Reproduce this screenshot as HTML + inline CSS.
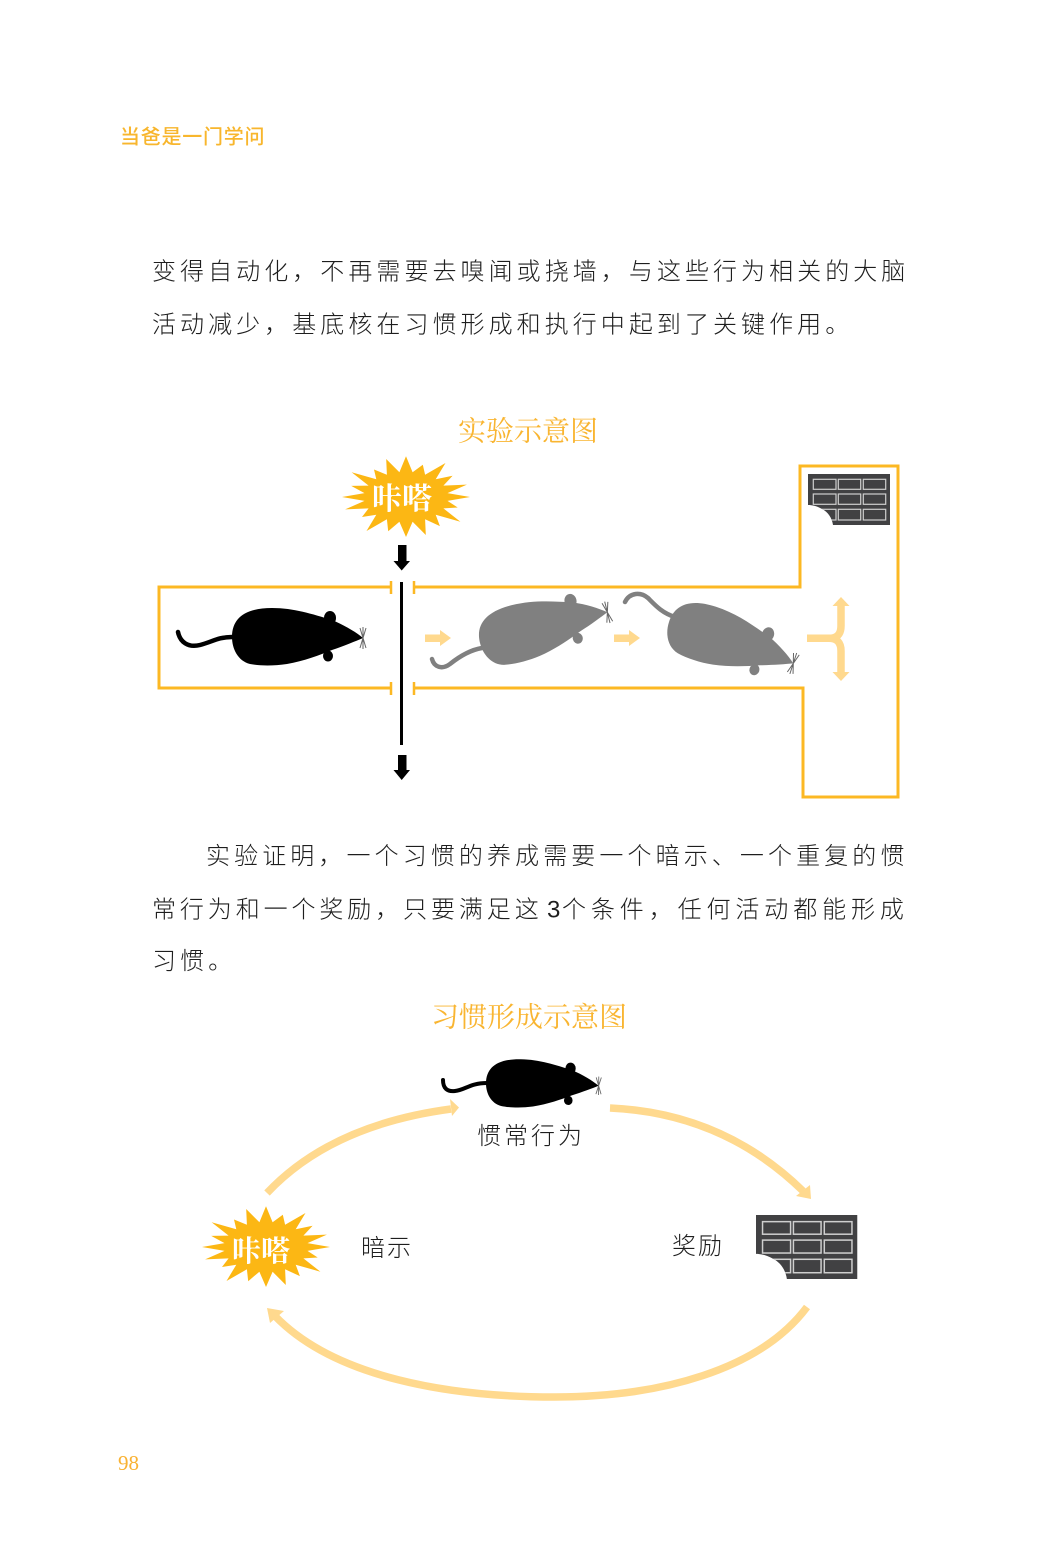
<!DOCTYPE html>
<html><head><meta charset="utf-8">
<style>
html,body{margin:0;padding:0;background:#fff;}
body{width:1058px;height:1550px;overflow:hidden;}
svg{display:block;}
.b{font-family:"Liberation Sans","Noto Sans CJK SC",sans-serif;font-size:24px;fill:#1e1e1e;font-weight:300;}
.t{font-family:"Liberation Serif","Noto Serif CJK SC",serif;font-size:28px;fill:#f9b531;}
.k{font-family:"Liberation Serif","Noto Serif CJK SC",serif;font-weight:700;fill:#fff;}
</style></head>
<body>
<svg width="1058" height="1550" viewBox="0 0 1058 1550" xmlns="http://www.w3.org/2000/svg">
<defs>
  <g id="mouse">
    <path d="M0,0 C0,-18 12,-29 40,-29 C62,-29 80,-23 100,-17 C112,-12 124,-5 131,1 C124,4 112,9 100,13 C88,18 72,24 55,27 C42,29 28,29 18,27 C6,24 0,12 0,0 Z"/>
    <ellipse cx="98" cy="-19" rx="6" ry="7"/>
    <ellipse cx="96" cy="19" rx="5" ry="5.5"/>
  </g>
  <g id="whisk">
    <path d="M128,-9 L134,11 M134,-9 L128,11 M131,-10 L131,12" stroke="#666" stroke-width="1" fill="none"/>
  </g>
  <clipPath id="chocclip">
    <path d="M0,0 H82 V51 H25 C24,44 20,38 14,35 C9,32 4,31 0,31 Z"/>
  </clipPath>
  <g id="choc">
    <path d="M0,0 H82 V51 H25 C24,44 20,38 14,35 C9,32 4,31 0,31 Z" fill="#414143"/>
    <g clip-path="url(#chocclip)" fill="none" stroke="#cfcfcf" stroke-width="1.2">
      <rect x="5.3" y="5.3" width="22.7" height="10"/>
      <rect x="30.3" y="5.3" width="22.4" height="10"/>
      <rect x="55.3" y="5.3" width="22.4" height="10"/>
      <rect x="5.3" y="20" width="22.7" height="10.3"/>
      <rect x="30.3" y="20" width="22.4" height="10.3"/>
      <rect x="55.3" y="20" width="22.4" height="10.3"/>
      <rect x="5.3" y="35.3" width="22.7" height="10.7"/>
      <rect x="30.3" y="35.3" width="22.4" height="10.7"/>
      <rect x="55.3" y="35.3" width="22.4" height="10.7"/>
    </g>
  </g>
  <polygon id="burst" fill="#fcb714" points="64,0 41.5,3.9 51.7,10.5 37.4,11.4 54.4,24.7 29.7,17.7 33.9,29.1 19.1,22.3 19.8,38 6.6,24.7 0,40 -6.6,24.7 -17.8,34.2 -19.1,22.3 -39.5,34 -29.7,17.7 -44,20 -37.4,11.4 -60.9,12.4 -41.5,3.9 -64,0 -41.5,-3.9 -54.8,-11.1 -37.4,-11.4 -54.4,-24.7 -29.7,-17.7 -32,-27.5 -19.1,-22.3 -19.8,-38 -6.6,-24.7 0,-40.8 6.6,-24.7 16.8,-32.3 19.1,-22.3 39.5,-34 29.7,-17.7 46.6,-21.2 37.4,-11.4 60.9,-12.4 41.5,-3.9"/>
</defs>

<!-- header -->
<text x="120" y="143.5" style="font-family:'Liberation Sans','Noto Sans CJK SC',sans-serif;font-size:20px;font-weight:500;fill:#f8b62d;letter-spacing:0.75px">当爸是一门学问</text>

<!-- paragraph 1 -->
<text class="b" x="152" y="279.6" style="letter-spacing:4.05px">变得自动化，不再需要去嗅闻或挠墙，与这些行为相关的大脑</text>
<text class="b" x="152" y="332.6" style="letter-spacing:4.05px">活动减少，基底核在习惯形成和执行中起到了关键作用。</text>

<!-- title 1 -->
<text class="t" x="458" y="440.6">实验示意图</text>

<!-- diagram 1 -->
<g fill="none" stroke="#fcb823" stroke-width="3">
  <path d="M391,587 H159 V688 H391"/>
  <path d="M414,587 H800 V466 H898 V797 H803 V688 H414"/>
  <path d="M391,581 V594 M391,682 V695 M414,581 V594 M414,682 V695" stroke-width="2.5"/>
</g>
<use href="#burst" transform="translate(406,497)"/>
<text class="k" x="372" y="509" style="font-size:30px">咔嗒</text>
<!-- black arrows and gate -->
<rect x="398" y="545" width="8.5" height="16" fill="#000"/>
<polygon points="393.5,561 410,561 401.7,570.5" fill="#000"/>
<rect x="400" y="582" width="3" height="163" fill="#000"/>
<rect x="398" y="755" width="8.5" height="16" fill="#000"/>
<polygon points="393.5,770 410,770 401.7,780" fill="#000"/>

<!-- chocolate 1 -->
<use href="#choc" transform="translate(808,474)"/>

<!-- mice in diagram 1 -->
<path d="M232,637 C218,637 212,642 200,645 C188,648 180,642 178,632" fill="none" stroke="#000" stroke-width="4.5" stroke-linecap="round"/>
<use href="#mouse" transform="translate(232,637)" fill="#000"/>
<use href="#whisk" transform="translate(232,637)"/>

<path d="M482,648 C470,650 460,656 450,664 C442,670 434,667 432,659" fill="none" stroke="#808080" stroke-width="4.5" stroke-linecap="round"/>
<use href="#mouse" transform="translate(480,643) rotate(-14)" fill="#808080"/>
<use href="#whisk" transform="translate(480,643) rotate(-14)"/>

<path d="M675,617 C662,613 655,605 648,598 C641,592 630,592 625,602" fill="none" stroke="#808080" stroke-width="4.5" stroke-linecap="round"/>
<use href="#mouse" transform="translate(669,622) rotate(18)" fill="#808080"/>
<use href="#whisk" transform="translate(669,622) rotate(18)"/>

<!-- small yellow arrows -->
<polygon points="425,634.5 440,634.5 440,630 451,638 440,646 440,642 425,642" fill="#ffd98e"/>
<polygon points="614,634.5 629,634.5 629,630 640,638 629,646 629,642 614,642" fill="#ffd98e"/>
<!-- fork -->
<path d="M807,638.3 H829 Q841,638.3 841,626 V605 M829,638.3 Q841,638.3 841,651 V672" fill="none" stroke="#ffd98e" stroke-width="7.5"/>
<polygon points="832.5,606 849.5,606 841,597" fill="#ffd98e"/>
<polygon points="832.5,672 849.5,672 841,681" fill="#ffd98e"/>

<!-- paragraph 2 -->
<text class="b" x="206" y="864" style="letter-spacing:4.1px">实验证明，一个习惯的养成需要一个暗示、一个重复的惯</text>
<text class="b" y="917.5"><tspan x="152" style="letter-spacing:3.9px">常行为和一个奖励，只要满足这</tspan><tspan x="547" style="font-family:'Liberation Sans',sans-serif">3</tspan><tspan x="562" style="letter-spacing:4.9px">个条件，任何活动都能形成</tspan></text>
<text class="b" x="152" y="969" style="letter-spacing:4.05px">习惯。</text>

<!-- title 2 -->
<text class="t" x="431" y="1026.6">习惯形成示意图</text>

<!-- diagram 2 arcs -->
<g fill="none" stroke="#ffd98e" stroke-width="7.5">
  <path d="M267,1193 Q331,1125 451,1109"/>
  <path d="M610,1108 Q723,1113 803,1191"/>
  <path d="M807,1307 C760,1370 660,1397 555,1397 C450,1397 335,1378 275,1316"/>
</g>
<polygon points="459,1107.5 450,1099 452,1116" fill="#ffd98e"/>
<polygon points="811,1199 796,1196 810,1185" fill="#ffd98e"/>
<polygon points="267,1308 284,1311 270,1323" fill="#ffd98e"/>

<!-- top mouse -->
<path d="M487,1083 C470,1083 465,1090 455,1091 C447,1092 443,1088 443,1080" fill="none" stroke="#000" stroke-width="4" stroke-linecap="round"/>
<use href="#mouse" transform="translate(486,1083) rotate(1) scale(0.86,0.84)" fill="#000"/>
<use href="#whisk" transform="translate(486,1083) rotate(1) scale(0.86,0.84)"/>
<text class="b" x="477" y="1144" style="letter-spacing:3px">惯常行为</text>

<!-- cue burst -->
<use href="#burst" transform="translate(266,1247)"/>
<text class="k" x="232" y="1261" style="font-size:29px">咔嗒</text>
<text class="b" x="361" y="1256" style="letter-spacing:2px">暗示</text>

<!-- reward -->
<text class="b" x="672" y="1254" style="letter-spacing:2px">奖励</text>
<use href="#choc" transform="translate(756,1215) scale(1.235,1.255)"/>

<!-- page number -->
<text x="118" y="1470" style="font-family:'Liberation Serif',serif;font-size:21px;fill:#f9b233">98</text>
</svg>
</body></html>
